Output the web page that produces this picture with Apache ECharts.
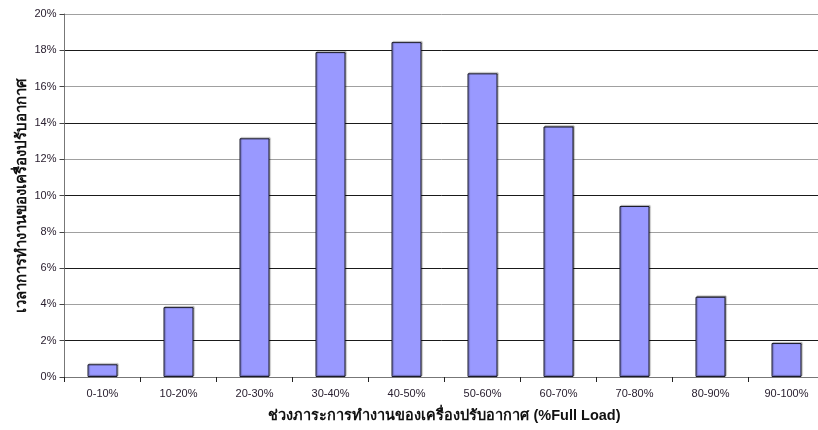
<!DOCTYPE html>
<html>
<head>
<meta charset="utf-8">
<script src="https://cdn.jsdelivr.net/npm/echarts@6/dist/echarts.min.js"></script>
<style>
  html, body { margin: 0; padding: 0; background: #fff; }
  #chart { width: 818px; height: 430px; }
</style>
</head>
<body>
<div id="chart"></div>
<script>
// Load bands of the air conditioner (% of full load)
const loadBands = ['0-10%', '10-20%', '20-30%', '30-40%', '40-50%',
                   '50-60%', '60-70%', '70-80%', '80-90%', '90-100%'];
// Share of operating time spent in each band (%)
const timeShare = [0.7, 3.85, 13.15, 17.9, 18.45, 16.73, 13.8, 9.42, 4.42, 1.87];
// Y-axis ticks (%)
const yTicks = { min: 0, max: 20, step: 2 };

const xTitle = 'ช่วงภาระการทำงานของเครื่องปรับอากาศ (%Full Load)';
const yTitle = 'เวลาการทำงานของเครื่องปรับอากาศ';

const font = 'Arial, "Liberation Sans", Tahoma, "DejaVu Sans", sans-serif';

const chart = echarts.init(document.getElementById('chart'), null, { renderer: 'canvas' });
chart.setOption({
  backgroundColor: '#ffffff',
  animation: false,
  // the plot runs a little past the right edge of the canvas
  grid: { left: 64.5, top: 14, width: 760, height: 363,
          containLabel: false, outerBoundsMode: 'none' },
  xAxis: {
    type: 'category',
    data: loadBands,
    boundaryGap: true,
    name: xTitle,
    nameLocation: 'middle',
    nameGap: 31,
    nameTextStyle: { fontFamily: font, fontSize: 14.5, fontWeight: 'bold', color: '#111' },
    axisLine: { lineStyle: { color: '#777', width: 1 } },
    axisTick: { show: true, alignWithLabel: false, length: 5, lineStyle: { color: '#222' } },
    axisLabel: { fontFamily: font, fontSize: 11, color: '#2a2030', margin: 11 },
    splitLine: { show: false }
  },
  yAxis: {
    type: 'value',
    min: yTicks.min,
    max: yTicks.max,
    interval: yTicks.step,
    name: yTitle,
    nameLocation: 'middle',
    nameGap: 35,
    nameMoveOverlap: false,
    nameRotate: 90,
    nameTextStyle: { fontFamily: font, fontSize: 15, fontWeight: 'bold', color: '#111' },
    axisLine: { show: true, lineStyle: { color: '#777', width: 1 } },
    axisTick: { show: true, length: 5, lineStyle: { color: '#444' } },
    axisLabel: { fontFamily: font, fontSize: 11, color: '#2a2030', margin: 8,
                 formatter: v => v + '%' },
    splitLine: { show: true, lineStyle: { color: ['#a0a0a0', '#1a1a1a'], width: 1 } }
  },
  series: [{
    type: 'bar',
    data: timeShare,
    barWidth: 30,
    itemStyle: {
      color: '#9999ff',
      borderColor: '#1a1a2a',
      borderWidth: 1,
      shadowColor: 'rgba(0,0,0,0.35)',
      shadowOffsetX: 1,
      shadowOffsetY: -1,
      shadowBlur: 1
    }
  }]
});
</script>
</body>
</html>
